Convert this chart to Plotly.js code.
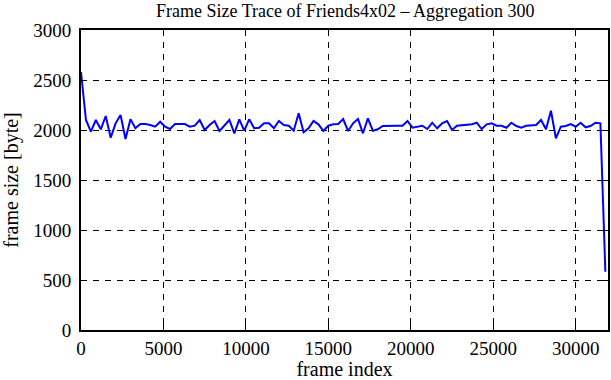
<!DOCTYPE html>
<html>
<head>
<meta charset="utf-8">
<script src="https://cdn.plot.ly/plotly-3.0.1.min.js"></script>
<style>html,body{margin:0;padding:0;background:#fff;}#chart{width:611px;height:380px;}</style>
</head>
<body>
<div id="chart"></div>
<script>
const frameIndex = [0,300,600,900,1200,1500,1800,2100,2400,2700,3000,3300,3600,3900,4200,4500,4800,5100,5400,5700,6000,6300,6600,6900,7200,7500,7800,8100,8400,8700,9000,9300,9600,9900,10200,10500,10800,11100,11400,11700,12000,12300,12600,12900,13200,13500,13800,14100,14400,14700,15000,15300,15600,15900,16200,16500,16800,17100,17400,17700,18000,18300,18600,18900,19200,19500,19800,20100,20400,20700,21000,21300,21600,21900,22200,22500,22800,23100,23400,23700,24000,24300,24600,24900,25200,25500,25800,26100,26400,26700,27000,27300,27600,27900,28200,28500,28800,29100,29400,29700,30000,30300,30600,30900,31200,31500,31800];
const frameSize = [2580,2100,1983,2100,2007,2140,1923,2067,2150,1910,2107,2017,2060,2060,2050,2033,2083,2033,2010,2060,2060,2060,2033,2043,2100,2000,2050,2090,1990,2043,2100,1967,2107,1993,2107,2017,2023,2067,2067,2017,2090,2050,2043,1993,2167,1977,2017,2090,2057,1990,2043,2057,2060,2110,1990,2067,2110,1967,2117,1993,2007,2040,2043,2043,2043,2043,2090,2023,2033,2043,2010,2073,2017,2067,2090,2000,2043,2050,2050,2057,2073,2010,2057,2067,2043,2043,2023,2073,2040,2023,2043,2043,2050,2100,2007,2193,1917,2033,2040,2060,2033,2073,2027,2040,2073,2067,583];
const xTicks = [0,5000,10000,15000,20000,25000,30000];
const yTicks = [0,500,1000,1500,2000,2500,3000];

const fam = '"Liberation Serif", "Times New Roman", serif';
const tickFont = {family: fam, color: '#000', size: 19};
const titleFont = {family: fam, color: '#000', size: 20};

const axisCommon = {
  showline: true, linecolor: '#000', linewidth: 2, mirror: 'ticks',
  ticks: 'inside', ticklen: 6, tickwidth: 1, tickcolor: '#000',
  showgrid: true, gridcolor: '#000', gridwidth: 1, griddash: '6px,6px',
  zeroline: false, tickfont: tickFont
};

Plotly.newPlot('chart', [{
  x: frameIndex, y: frameSize, type: 'scatter', mode: 'lines',
  line: {color: '#0000ff', width: 2}
}], {
  width: 611, height: 380,
  margin: {l: 81, r: 3, t: 30, b: 50},
  paper_bgcolor: '#fff', plot_bgcolor: '#fff',
  showlegend: false,
  font: titleFont,
  title: {text: 'Frame Size Trace of Friends4x02 \u2013 Aggregation 300', font: {family: fam, color: '#000', size: 18}, x: 0.565, xanchor: 'center', y: 0.972, yanchor: 'middle'},
  xaxis: Object.assign({}, axisCommon, {
    range: [0, 31960], tickvals: xTicks, ticktext: xTicks.map(String),
    ticklabelstandoff: 0,
    title: {text: 'frame index', font: titleFont, standoff: 4}
  }),
  yaxis: Object.assign({}, axisCommon, {
    range: [0, 3000], tickvals: yTicks, ticktext: yTicks.map(String),
    ticklabelstandoff: 4,
    title: {text: 'frame size [byte]', font: titleFont, standoff: 12}
  })
}, {displayModeBar: false, staticPlot: true});
</script>
</body>
</html>
